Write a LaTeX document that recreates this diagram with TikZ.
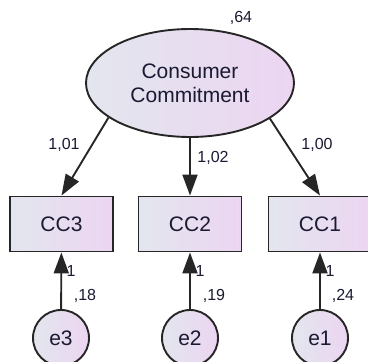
\documentclass[tikz,border=0pt]{standalone}
\usepackage{fontspec}
\setmainfont{Liberation Sans}
\usetikzlibrary{arrows.meta,shapes.geometric}
\definecolor{fillL}{HTML}{E3E6EE}
\definecolor{fillR}{HTML}{ECD5F1}
\definecolor{txt}{HTML}{1A1A33}
\begin{document}
\begin{tikzpicture}[x=1pt,y=-1pt,
  shaded/.style={draw=black!85,line width=1.9pt,left color=fillL,right color=fillR,
    text=txt,font=\fontsize{21}{24}\selectfont,inner sep=0pt},
  latent/.style={shaded,ellipse,minimum width=208pt,minimum height=108pt,align=center},
  observed/.style={shaded,rectangle,minimum width=103pt,minimum height=55pt},
  errvar/.style={shaded,circle,minimum size=56pt},
  link/.style={draw=black!85,line width=1.9pt,-{Triangle[length=21pt,width=15pt]}},
  est/.style={font=\fontsize{16}{18}\selectfont,text=txt,inner sep=0pt}]
\useasboundingbox (0,0) rectangle (368,362);

\node[latent] (cc) at (190,83) {Consumer\\Commitment};

\node[observed] (cc3) at (61.5,224) {CC3};
\node[observed] (cc2) at (190,224) {CC2};
\node[observed] (cc1) at (320,224) {CC1};

\node[errvar] (e3) at (61,338) {e3};
\node[errvar] (e2) at (190,338) {e2};
\node[errvar] (e1) at (320,338) {e1};

% factor loadings
\draw[link] (cc.203) -- (cc3.north);
\draw[link] (cc) -- (cc2.north);
\draw[link] (cc.336) -- (cc1.north);

% error terms
\draw[link] (e3) -- (cc3);
\draw[link] (e2) -- (cc2);
\draw[link] (e1) -- (cc1);

% estimates
\node[est] (v64) at (241,18) {,64};
\node[est] (l3) at (64,145) {1,01};
\node[est] (l2) at (213,158) {1,02};
\node[est] (l1) at (317,145) {1,00};
\node[est] (f3) at (71,271) {1};
\node[est] (f2) at (200,271) {1};
\node[est] (f1) at (330,271) {1};
\node[est] (v18) at (85,296) {,18};
\node[est] (v19) at (214,296) {,19};
\node[est] (v24) at (343,296) {,24};
\end{tikzpicture}
\end{document}
